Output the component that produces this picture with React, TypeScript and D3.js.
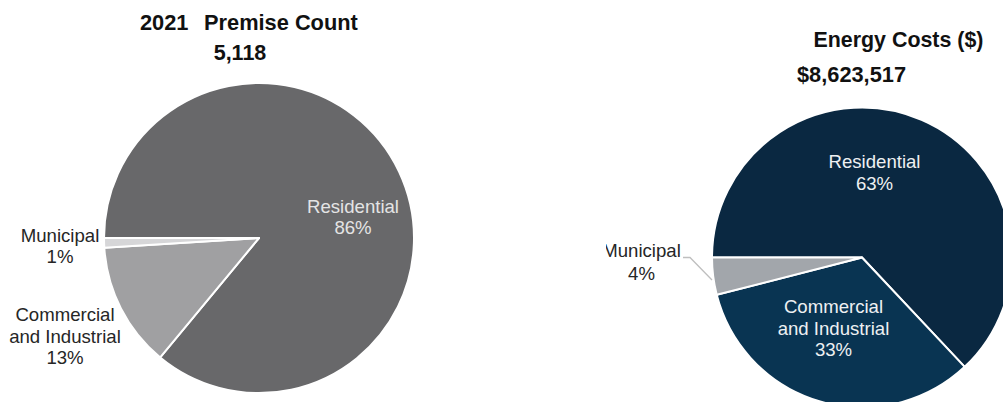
import React from "react";
import * as d3 from "d3";

const categories = ["Residential", "Commercial and Industrial", "Municipal"];
const premiseShares = [86, 13, 1];
const costShares = [63, 33, 4];
const premiseColors = ["#68686a", "#a0a0a2", "#d6d6d8"];
const costColors = ["#0a2841", "#093452", "#a2a6ab"];
const premiseTitle = ["2021", "Premise Count"];
const premiseTotal = "5,118";
const costTitle = "Energy Costs ($)";
const costTotal = "$8,623,517";

const FONT = "'Liberation Sans', Arial, sans-serif";

function Pie({ values, colors, cx, cy, r }: { values: number[]; colors: string[]; cx: number; cy: number; r: number }) {
  const pie = d3
    .pie<number>()
    .sort(null)
    .startAngle(Math.PI * 1.5)
    .endAngle(Math.PI * 3.5);
  const arc = d3.arc<d3.PieArcDatum<number>>().innerRadius(0).outerRadius(r);
  const arcs = pie(values);
  return (
    <g transform={`translate(${cx},${cy})`}>
      {arcs.map((a, i) => (
        <path key={i} d={arc(a) || ""} fill={colors[i]} stroke="#ffffff" strokeWidth={2} strokeLinejoin="round" />
      ))}
    </g>
  );
}

function Label({ x, y, lines, color, size = 18.6, lh = 21.5 }: { x: number; y: number; lines: string[]; color: string; size?: number; lh?: number }) {
  return (
    <text x={x} y={y} textAnchor="middle" fontFamily={FONT} fontSize={size} fill={color}>
      {lines.map((l, i) => (
        <tspan key={i} x={x} dy={i === 0 ? 0 : lh}>
          {l}
        </tspan>
      ))}
    </text>
  );
}

export default function App() {
  const pct = (v: number) => `${v}%`;
  return (
    <svg width={1003} height={402} style={{ position: "absolute", left: 0, top: 0, background: "#fff" }}>
      <defs>
        <clipPath id="rightClip">
          <rect x={606} y={0} width={397} height={402} />
        </clipPath>
      </defs>
      <rect x={0} y={0} width={1003} height={402} fill="#ffffff" />

      {/* Left chart */}
      <text fontFamily={FONT} fontWeight="bold" fontSize={21.8} fill="#111">
        <tspan x={140} y={30}>{premiseTitle[0]}</tspan>
        <tspan x={204} y={30}>{premiseTitle[1]}</tspan>
      </text>
      <text x={240} y={59.5} textAnchor="middle" fontFamily={FONT} fontWeight="bold" fontSize={21.5} fill="#111">
        {premiseTotal}
      </text>
      <Pie values={premiseShares} colors={premiseColors} cx={259} cy={238} r={155} />
      <Label x={353} y={212.5} lines={[categories[0], pct(premiseShares[0])]} color="#e4e4e4" lh={21} />
      <Label x={65} y={321} lines={["Commercial", "and Industrial", pct(premiseShares[1])]} color="#262626" />
      <Label x={60} y={241.5} lines={[categories[2], pct(premiseShares[2])]} color="#262626" />

      {/* Right chart */}
      <text x={898.5} y={46.7} textAnchor="middle" fontFamily={FONT} fontWeight="bold" fontSize={21.4} fill="#111">
        {costTitle}
      </text>
      <text x={851.5} y={81.7} textAnchor="middle" fontFamily={FONT} fontWeight="bold" fontSize={21.8} fill="#111">
        {costTotal}
      </text>
      <Pie values={costShares} colors={costColors} cx={862} cy={257.5} r={150} />
      <Label x={874.5} y={168.3} lines={[categories[0], pct(costShares[0])]} color="#eef0f2" />
      <Label x={833.5} y={313.3} lines={["Commercial", "and Industrial", pct(costShares[1])]} color="#eef0f2" />
      <polyline points="683,257.5 690,257.5 712,280" fill="none" stroke="#bfbfbf" strokeWidth={1.3} />
      <g clipPath="url(#rightClip)">
        <Label x={641.5} y={257.3} lines={[categories[2], pct(costShares[2])]} color="#262626" lh={22.7} />
      </g>
    </svg>
  );
}
